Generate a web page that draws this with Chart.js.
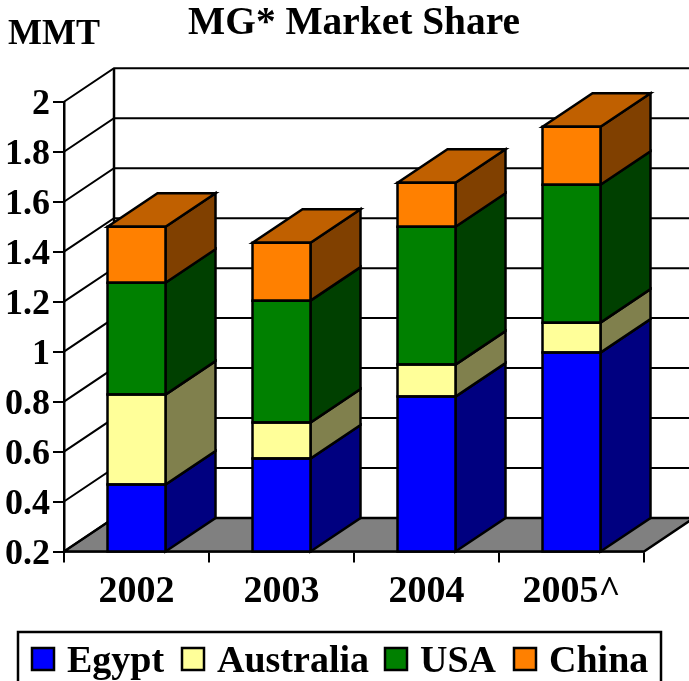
<!DOCTYPE html>
<html>
<head>
<meta charset="utf-8">
<style>html,body{margin:0;padding:0;background:#fff}canvas{display:block}</style>
<script src="https://cdn.jsdelivr.net/npm/chart.js@4"></script>
</head>
<body>
<canvas id="c" width="689" height="681"></canvas>
<script>
const categories = ['2002', '2003', '2004', '2005^'];
const egypt = [0.468, 0.572, 0.82, 0.996];
const australia = [0.36, 0.144, 0.128, 0.12];
const usa = [0.448, 0.488, 0.552, 0.552];
const china = [0.224, 0.232, 0.176, 0.232];
const FONT = '"Liberation Serif", "Times New Roman", serif';
const DX = 50, DY = 33.5, LW = 2.5;
const legendX = [32, 182, 385, 514];
const sideColors = ['#000080', '#80804d', '#004000', '#804000'];
const topColor = '#c06000';

function poly(ctx, pts, fill, lw) {
  ctx.beginPath();
  pts.forEach((p, i) => i ? ctx.lineTo(p[0], p[1]) : ctx.moveTo(p[0], p[1]));
  ctx.closePath();
  if (fill) { ctx.fillStyle = fill; ctx.fill(); }
  ctx.lineWidth = lw;
  ctx.strokeStyle = '#000';
  ctx.stroke();
}

const threeD = {
  id: 'threeD',
  beforeDraw(chart) {
    const y = chart.scales.y;
    y.getLabelItems().forEach(it => { it.textOffset += 3; });
  },
  beforeDatasetsDraw(chart) {
    const ctx = chart.ctx, a = chart.chartArea, y = chart.scales.y;
    ctx.save();
    ctx.lineJoin = 'miter';
    // floor
    poly(ctx, [[a.left, a.bottom], [a.left + DX, a.bottom - DY], [a.right + DX, a.bottom - DY], [a.right, a.bottom]], '#808080', LW);
    // walls grid
    ctx.strokeStyle = '#000';
    ctx.lineWidth = 2;
    y.ticks.forEach(t => {
      const py = y.getPixelForValue(t.value);
      ctx.beginPath();
      ctx.moveTo(a.left, py);
      ctx.lineTo(a.left + DX, py - DY);
      ctx.lineTo(a.right + DX, py - DY);
      ctx.stroke();
    });
    ctx.lineWidth = LW;
    ctx.beginPath();
    ctx.moveTo(a.left + DX, a.top - DY);
    ctx.lineTo(a.left + DX, a.bottom - DY);
    ctx.stroke();
    // bar sides and tops
    const n = chart.data.datasets.length;
    for (let d = 0; d < n; d++) {
      chart.getDatasetMeta(d).data.forEach(el => {
        const r = el.x + el.width / 2, l = el.x - el.width / 2;
        const base = Math.min(el.base, a.bottom);
        poly(ctx, [[r, el.y], [r + DX, el.y - DY], [r + DX, base - DY], [r, base]], sideColors[d], LW);
        if (d === n - 1) {
          poly(ctx, [[l, el.y], [l + DX, el.y - DY], [r + DX, el.y - DY], [r, el.y]], topColor, LW);
        }
      });
    }
    ctx.restore();
  },
  afterDatasetsDraw(chart) {
    const ctx = chart.ctx, a = chart.chartArea;
    ctx.save();
    chart.data.datasets.forEach((ds, d) => {
      chart.getDatasetMeta(d).data.forEach(el => {
        const r = el.x + el.width / 2, l = el.x - el.width / 2;
        const base = Math.min(el.base, a.bottom);
        poly(ctx, [[l, el.y], [r, el.y], [r, base], [l, base]], null, LW);
      });
    });
    ctx.restore();
  },
  afterDraw(chart) {
    const ctx = chart.ctx;
    ctx.save();
    // unit label
    ctx.fillStyle = '#000';
    ctx.font = 'bold 36px ' + FONT;
    ctx.textAlign = 'left';
    ctx.textBaseline = 'alphabetic';
    ctx.fillText('MMT', 8, 44);
    // legend
    ctx.font = 'bold 38px ' + FONT;
    ctx.lineWidth = LW;
    ctx.strokeStyle = '#000';
    ctx.strokeRect(18, 632, 643, 60);
    chart.data.datasets.forEach((ds, i) => {
      ctx.fillStyle = ds.backgroundColor;
      ctx.fillRect(legendX[i], 648, 22, 22);
      ctx.strokeRect(legendX[i], 648, 22, 22);
      ctx.fillStyle = '#000';
      ctx.fillText(ds.label, legendX[i] + 35, 672);
    });
    ctx.restore();
  }
};

const mk = (label, data, color) => ({
  label, data, backgroundColor: color, borderWidth: 0,
  barPercentage: 0.4, categoryPercentage: 1
});

new Chart(document.getElementById('c'), {
  type: 'bar',
  data: {
    labels: categories,
    datasets: [
      mk('Egypt', egypt, '#0000ff'),
      mk('Australia', australia, '#ffff99'),
      mk('USA', usa, '#008000'),
      mk('China', china, '#ff8000')
    ]
  },
  plugins: [threeD],
  options: {
    responsive: false,
    animation: false,
    layout: { padding: { left: 0, right: 45, top: 0, bottom: 69.5 } },
    plugins: {
      legend: { display: false },
      tooltip: { enabled: false },
      title: {
        display: true,
        text: 'MG* Market Share',
        color: '#000',
        fullSize: false,
        padding: { top: 0, bottom: 54.5 },
        font: { family: FONT, size: 39.4, weight: 'bold', lineHeight: 1.2 }
      }
    },
    scales: {
      x: {
        stacked: true,
        afterFit(s) { s.height = 60; },
        grid: { drawOnChartArea: false, color: '#000', lineWidth: 2, tickLength: 11, offset: true },
        border: { color: '#000', width: LW },
        ticks: { color: '#000', padding: 7, autoSkip: false, maxRotation: 0, font: { family: FONT, size: 38, weight: 'bold' } }
      },
      y: {
        stacked: true,
        min: 0.2,
        max: 2,
        afterFit(s) { s.width = 64; },
        grid: { drawOnChartArea: false, color: '#000', lineWidth: 2, tickLength: 11 },
        border: { color: '#000', width: LW },
        ticks: {
          stepSize: 0.2, color: '#000', padding: 3,
          callback: v => String(Number(v.toFixed(1))),
          font: { family: FONT, size: 36, weight: 'bold' }
        }
      }
    }
  }
});
</script>
</body>
</html>
